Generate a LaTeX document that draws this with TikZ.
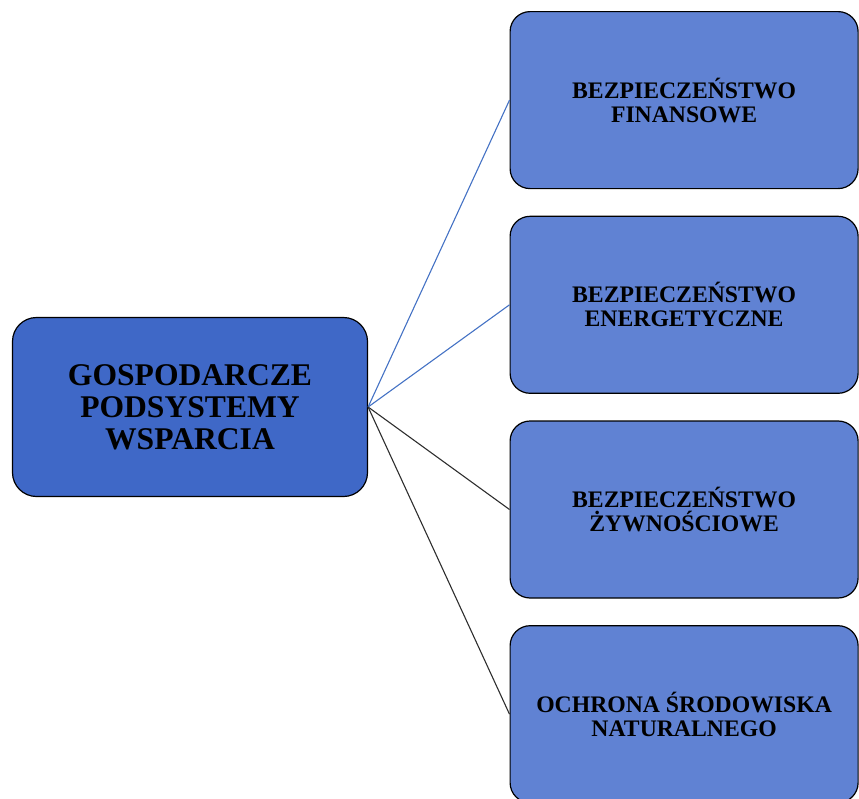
\documentclass[tikz,border=0pt]{standalone}
\usepackage{fontspec}
\setmainfont{Liberation Serif}
\usetikzlibrary{positioning}
\definecolor{coreblue}{HTML}{3F68C7}
\definecolor{pillarblue}{HTML}{6082D3}
\definecolor{linkblue}{HTML}{4472C4}
\definecolor{linkdark}{HTML}{2E2E2E}
\newcommand\pillarwidth{348pt}
\newcommand\pillarheight{177pt}
\newcommand\pillargap{26.5pt}
\newcommand\coretextstyle{\bfseries\fontsize{31.6}{32}\selectfont}
\newcommand\pillartextstyle{\bfseries\fontsize{23.7}{24}\selectfont}
\tikzset{
  core/.style={draw=black, line width=1.2pt, fill=coreblue, rounded corners=24pt,
    minimum width=355pt, minimum height=179pt, align=center, font=\coretextstyle},
  pillar/.style={draw=black, line width=1.2pt, fill=pillarblue, rounded corners=20pt,
    minimum width=\pillarwidth, minimum height=\pillarheight, inner sep=0pt,
    align=center, font=\pillartextstyle},
  link/.style={line width=1.1pt}
}

\begin{document}
\begin{tikzpicture}[x=1pt, y=-1pt]
  \useasboundingbox (0,0) rectangle (859,798);
  \node[core] (core) at (190,407) {GOSPODARCZE\\PODSYSTEMY\\WSPARCIA};
  % pillars, top to bottom
  \node[pillar, anchor=north west] (finanse) at (509.5,11) {BEZPIECZEŃSTWO\\FINANSOWE};
  \node[pillar, below=\pillargap of finanse] (energia) {BEZPIECZEŃSTWO\\ENERGETYCZNE};
  \node[pillar, below=\pillargap of energia] (zywnosc) {BEZPIECZEŃSTWO\\ŻYWNOŚCIOWE};
  \node[pillar, below=\pillargap of zywnosc] (srodowisko) {OCHRONA ŚRODOWISKA\\NATURALNEGO};
  % links
  \draw[link, linkblue] (core.east) -- (finanse.west);
  \draw[link, linkblue] (core.east) -- (energia.west);
  \draw[link, linkdark] (core.east) -- (zywnosc.west);
  \draw[link, linkdark] (core.east) -- (srodowisko.west);
\end{tikzpicture}
\end{document}
